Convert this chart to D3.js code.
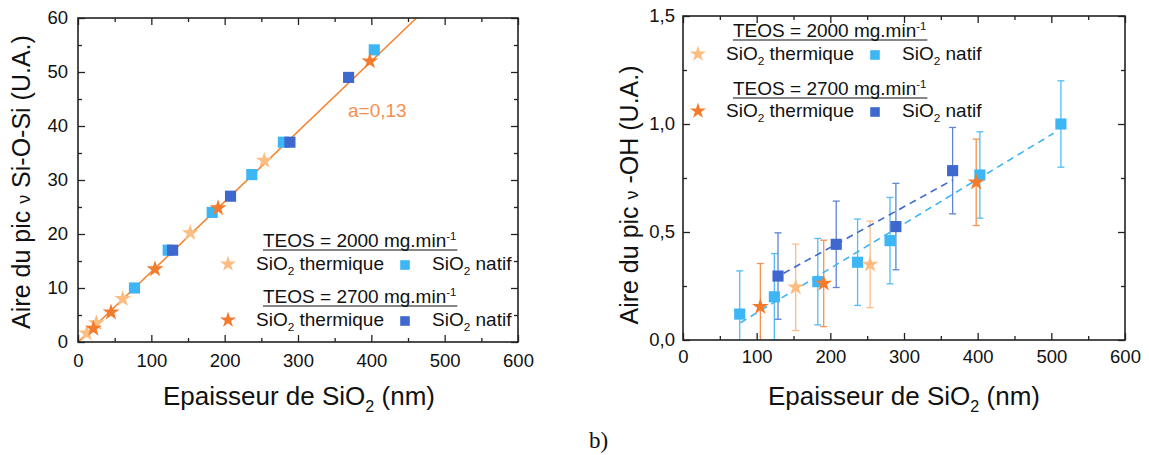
<!DOCTYPE html>
<html><head><meta charset="utf-8">
<script src="https://cdn.jsdelivr.net/npm/d3@7"></script>
<style>
body{margin:0;background:#fff}
svg{display:block}
text{font-family:"Liberation Sans",Arial,Helvetica,sans-serif;fill:#111}
</style></head>
<body><svg id="c" width="1149" height="455"></svg>
<script>
// ---------- DATA ----------
// Panel a) : Si-O-Si peak area vs SiO2 thickness
const leftThermal2000X = [12, 25, 61, 153, 254];
const leftThermal2000Y = [1.6, 3.5, 8.0, 20.2, 33.6];
const leftThermal2700X = [21, 45, 105, 191, 398];
const leftThermal2700Y = [2.5, 5.5, 13.5, 24.8, 52.0];
const leftNative2000X = [77, 123, 183, 237, 280, 404];
const leftNative2000Y = [10.0, 17.0, 24.0, 31.0, 37.0, 54.1];
const leftNative2700X = [129, 208, 289, 369];
const leftNative2700Y = [17.0, 27.0, 37.0, 49.0];
const leftFitSlope = 0.13;
const leftFitX = [0, 461.5];
const leftFitLabel = "a=0,13";

// Panel b) : -OH peak area vs SiO2 thickness
const rightNative2000X = [77, 124, 183, 237, 281, 403, 513];
const rightNative2000Y = [0.12, 0.20, 0.27, 0.36, 0.46, 0.764, 1.0];
const rightNative2700X = [129, 208, 289, 366];
const rightNative2700Y = [0.296, 0.443, 0.525, 0.784];
const rightThermal2000X = [153, 254];
const rightThermal2000Y = [0.244, 0.35];
const rightThermal2700X = [105, 191, 398];
const rightThermal2700Y = [0.154, 0.262, 0.73];
const rightErr = 0.2;
const rightFitNative2000 = [[78, 0.08], [503, 0.957]];
const rightFitNative2700 = [[136.6, 0.309], [366.5, 0.742]];

const xDomain = [0, 600];
const xMajorTicks = [0, 100, 200, 300, 400, 500, 600];
const xMinorTicks = [50, 150, 250, 350, 450, 550];
const leftYDomain = [0, 60];
const leftYMajorTicks = [0, 10, 20, 30, 40, 50, 60];
const leftYMinorTicks = [5, 15, 25, 35, 45, 55];
const rightYDomain = [0, 1.5];
const rightYMajorTicks = [0, 0.5, 1.0, 1.5];
const rightYMinorTicks = [0.25, 0.75, 1.25];

const xTitle = ["Epaisseur de SiO", "2", " (nm)"];
const leftYTitle = "Aire du pic ν Si-O-Si (U.A.)";
const rightYTitle = "Aire du pic ν -OH (U.A.)";
const legendHeaders = ["TEOS = 2000 mg.min", "TEOS = 2700 mg.min"];
const legendThermal = "SiO";
const legendThermalTail = " thermique";
const legendNativeTail = " natif";

// ---------- STYLE ----------
const C = {
  lightOrange: "#fdbd80",
  orange: "#f47a2c",
  lightBlue: "#3db6f6",
  darkBlue: "#3f68cf",
  fitOrange: "#f58634",
  label: "#f5914c",
  axis: "#222"
};

const svg = d3.select("#c");
const starSym = d3.symbol().type(d3.symbolStar).size(88);
const sqSym = d3.symbol().type(d3.symbolSquare).size(124);
const starLeg = d3.symbol().type(d3.symbolStar).size(80);
const sqLeg = d3.symbol().type(d3.symbolSquare).size(92);

function frameAxes(g, x, y, o) {
  const [x0, x1] = x.range(), [y0, y1] = y.range();
  const fmtX = d3.format("d");
  const axStyle = sel => {
    sel.select(".domain").remove();
    sel.selectAll("line").attr("stroke", C.axis).attr("stroke-width", 1.3);
    sel.selectAll("text").attr("font-size", 18.5).attr("fill", "#111")
      .attr("font-family", '"Liberation Sans",Arial,sans-serif');
  };
  g.append("g").attr("transform", `translate(0,${y0})`)
    .call(d3.axisBottom(x).tickValues(xMajorTicks).tickSizeInner(-7).tickSizeOuter(0).tickPadding(o.xPad).tickFormat(fmtX)).call(axStyle);
  g.append("g").attr("transform", `translate(0,${y0})`)
    .call(d3.axisBottom(x).tickValues(xMinorTicks).tickSizeInner(-4).tickSizeOuter(0).tickFormat("")).call(axStyle);
  g.append("g").attr("transform", `translate(0,${y1})`)
    .call(d3.axisTop(x).tickValues(xMajorTicks).tickSizeInner(-7).tickSizeOuter(0).tickFormat("")).call(axStyle);
  g.append("g").attr("transform", `translate(0,${y1})`)
    .call(d3.axisTop(x).tickValues(xMinorTicks).tickSizeInner(-4).tickSizeOuter(0).tickFormat("")).call(axStyle);
  g.append("g").attr("transform", `translate(${x0},0)`)
    .call(d3.axisLeft(y).tickValues(o.yMaj).tickSizeInner(-7).tickSizeOuter(0).tickPadding(o.yPad).tickFormat(o.fmtY)).call(axStyle);
  g.append("g").attr("transform", `translate(${x0},0)`)
    .call(d3.axisLeft(y).tickValues(o.yMin).tickSizeInner(-4).tickSizeOuter(0).tickFormat("")).call(axStyle);
  g.append("g").attr("transform", `translate(${x1},0)`)
    .call(d3.axisRight(y).tickValues(o.yMaj).tickSizeInner(-7).tickSizeOuter(0).tickFormat("")).call(axStyle);
  g.append("g").attr("transform", `translate(${x1},0)`)
    .call(d3.axisRight(y).tickValues(o.yMin).tickSizeInner(-4).tickSizeOuter(0).tickFormat("")).call(axStyle);
  g.append("rect").attr("x", x0).attr("y", y1).attr("width", x1 - x0).attr("height", y0 - y1)
    .attr("fill", "none").attr("stroke", C.axis).attr("stroke-width", 1.6);
}

function richText(g, x, y, size, parts, anchor) {
  const t = g.append("text").attr("x", x).attr("y", y).attr("font-size", size)
    .attr("text-anchor", anchor || "start");
  let shift = 0;
  parts.forEach(p => {
    const ts = t.append("tspan").text(p.t);
    let target = 0;
    if (p.sub) { target = size * 0.28; ts.attr("font-size", size * 0.62); }
    if (p.sup) { target = -size * 0.38; ts.attr("font-size", size * 0.6); }
    if (p.small) { ts.attr("font-size", size * 0.72); }
    ts.attr("dy", target - shift);
    shift = target;
  });
  return t;
}

function xTitleText(g, cx, y) {
  richText(g, cx, y, 26, [{t: xTitle[0]}, {t: xTitle[1], sub: true}, {t: xTitle[2]}], "middle");
}

function yTitleText(g, x, cy, str) {
  const parts = str.split("ν");
  const gg = g.append("g").attr("transform", `translate(${x},${cy}) rotate(-90)`);
  richText(gg, 0, 0, 25, [{t: parts[0]}, {t: "ν", small: true}, {t: parts[1]}], "middle");
}

function legend(g, o) {
  const rows = [
    {head: legendHeaders[0], th: C.lightOrange, nat: C.lightBlue},
    {head: legendHeaders[1], th: C.orange, nat: C.darkBlue}
  ];
  rows.forEach((r, i) => {
    const hy = o.headY[i], ry = o.rowY[i];
    const h = richText(g, o.headX, hy, 19, [{t: r.head}, {t: "-1", sup: true}]);
    const w = h.node().getComputedTextLength();
    g.append("line").attr("x1", o.headX).attr("x2", o.headX + w + 1)
      .attr("y1", hy + 3).attr("y2", hy + 3).attr("stroke", "#111").attr("stroke-width", 1.2);
    g.append("path").attr("d", starLeg).attr("fill", r.th)
      .attr("transform", `translate(${o.starX},${ry - 6})`);
    richText(g, o.thX, ry, 19, [{t: legendThermal}, {t: "2", sub: true}, {t: legendThermalTail}]);
    g.append("path").attr("d", sqLeg).attr("fill", r.nat)
      .attr("transform", `translate(${o.sqX},${ry - 5})`);
    richText(g, o.natX, ry, 19, [{t: legendThermal}, {t: "2", sub: true}, {t: legendNativeTail}]);
  });
}

function zip(xs, ys) { return xs.map((v, i) => [v, ys[i]]); }

// ---------- PANEL A ----------
{
  const x = d3.scaleLinear().domain(xDomain).range([78, 518]);
  const y = d3.scaleLinear().domain(leftYDomain).range([342, 18]);
  const g = svg.append("g");
  g.append("clipPath").attr("id", "clipA").append("rect")
    .attr("x", 78).attr("y", 18).attr("width", 440).attr("height", 324);
  const line = d3.line().x(d => x(d[0])).y(d => y(d[1]));
  g.append("path").datum(leftFitX.map(v => [v, leftFitSlope * v]))
    .attr("d", line).attr("fill", "none").attr("stroke", C.fitOrange).attr("stroke-width", 1.6)
    .attr("clip-path", "url(#clipA)");
  const series = [
    {d: zip(leftThermal2000X, leftThermal2000Y), s: starSym, c: C.lightOrange},
    {d: zip(leftNative2000X, leftNative2000Y), s: sqSym, c: C.lightBlue},
    {d: zip(leftNative2700X, leftNative2700Y), s: sqSym, c: C.darkBlue},
    {d: zip(leftThermal2700X, leftThermal2700Y), s: starSym, c: C.orange}
  ];
  series.forEach(se => {
    g.append("g").selectAll("path").data(se.d).join("path")
      .attr("d", se.s).attr("fill", se.c)
      .attr("transform", d => `translate(${x(d[0])},${y(d[1])})`);
  });
  g.append("text").attr("x", 348).attr("y", 117).attr("font-size", 19)
    .attr("fill", C.label).style("fill", C.label).text(leftFitLabel);
  frameAxes(g, x, y, {yMaj: leftYMajorTicks, yMin: leftYMinorTicks, fmtY: d3.format("d"), xPad: 12, yPad: 10});
  legend(g, {headX: 263, headY: [247, 303], rowY: [270, 326], starX: 228, thX: 256, sqX: 405, natX: 432});
  xTitleText(g, 299, 405);
  yTitleText(g, 30, 182, leftYTitle);
}

// ---------- PANEL B ----------
{
  const x = d3.scaleLinear().domain(xDomain).range([683, 1125]);
  const y = d3.scaleLinear().domain(rightYDomain).range([340, 16]);
  const g = svg.append("g");
  g.append("clipPath").attr("id", "clipB").append("rect")
    .attr("x", 683).attr("y", 16).attr("width", 442).attr("height", 324);
  const fmtY = v => d3.format(".1f")(v).replace(".", ",");
  const line = d3.line().x(d => x(d[0])).y(d => y(d[1]));
  const series = [
    {d: zip(rightNative2000X, rightNative2000Y), s: sqSym, c: C.lightBlue, ec: "#52bef5"},
    {d: zip(rightThermal2000X, rightThermal2000Y), s: starSym, c: C.lightOrange, ec: "#f9bd88"},
    {d: zip(rightThermal2700X, rightThermal2700Y), s: starSym, c: C.orange, ec: "#f5934e"},
    {d: zip(rightNative2700X, rightNative2700Y), s: sqSym, c: C.darkBlue, ec: "#5f83d6"}
  ];
  const eg = g.append("g").attr("clip-path", "url(#clipB)");
  series.forEach(se => {
    se.d.forEach(d => {
      const px = x(d[0]), yt = y(d[1] + rightErr), yb = y(d[1] - rightErr);
      eg.append("line").attr("x1", px).attr("x2", px).attr("y1", yt).attr("y2", yb)
        .attr("stroke", se.ec).attr("stroke-width", 1.3);
      [yt, yb].forEach(yy => eg.append("line").attr("x1", px - 3.5).attr("x2", px + 3.5)
        .attr("y1", yy).attr("y2", yy).attr("stroke", se.ec).attr("stroke-width", 1.3));
    });
  });
  g.append("path").datum(rightFitNative2000).attr("d", line).attr("fill", "none")
    .attr("stroke", C.lightBlue).attr("stroke-width", 1.6).attr("stroke-dasharray", "7,5");
  g.append("path").datum(rightFitNative2700).attr("d", line).attr("fill", "none")
    .attr("stroke", C.darkBlue).attr("stroke-width", 1.6).attr("stroke-dasharray", "7,5");
  series.forEach(se => {
    g.append("g").selectAll("path").data(se.d).join("path")
      .attr("d", se.s).attr("fill", se.c)
      .attr("transform", d => `translate(${x(d[0])},${y(d[1])})`);
  });
  frameAxes(g, x, y, {yMaj: rightYMajorTicks, yMin: rightYMinorTicks, fmtY: fmtY, xPad: 10, yPad: 8});
  legend(g, {headX: 733, headY: [37, 95], rowY: [60, 117], starX: 698, thX: 726, sqX: 875, natX: 902});
  xTitleText(g, 904, 405);
  yTitleText(g, 638, 195, rightYTitle);
}

// panel label
svg.append("text").attr("x", 589).attr("y", 448).attr("font-size", 23)
  .attr("font-family", '"Liberation Serif","Times New Roman",serif')
  .style("font-family", '"Liberation Serif","Times New Roman",serif').text("b)");
</script></body></html>
